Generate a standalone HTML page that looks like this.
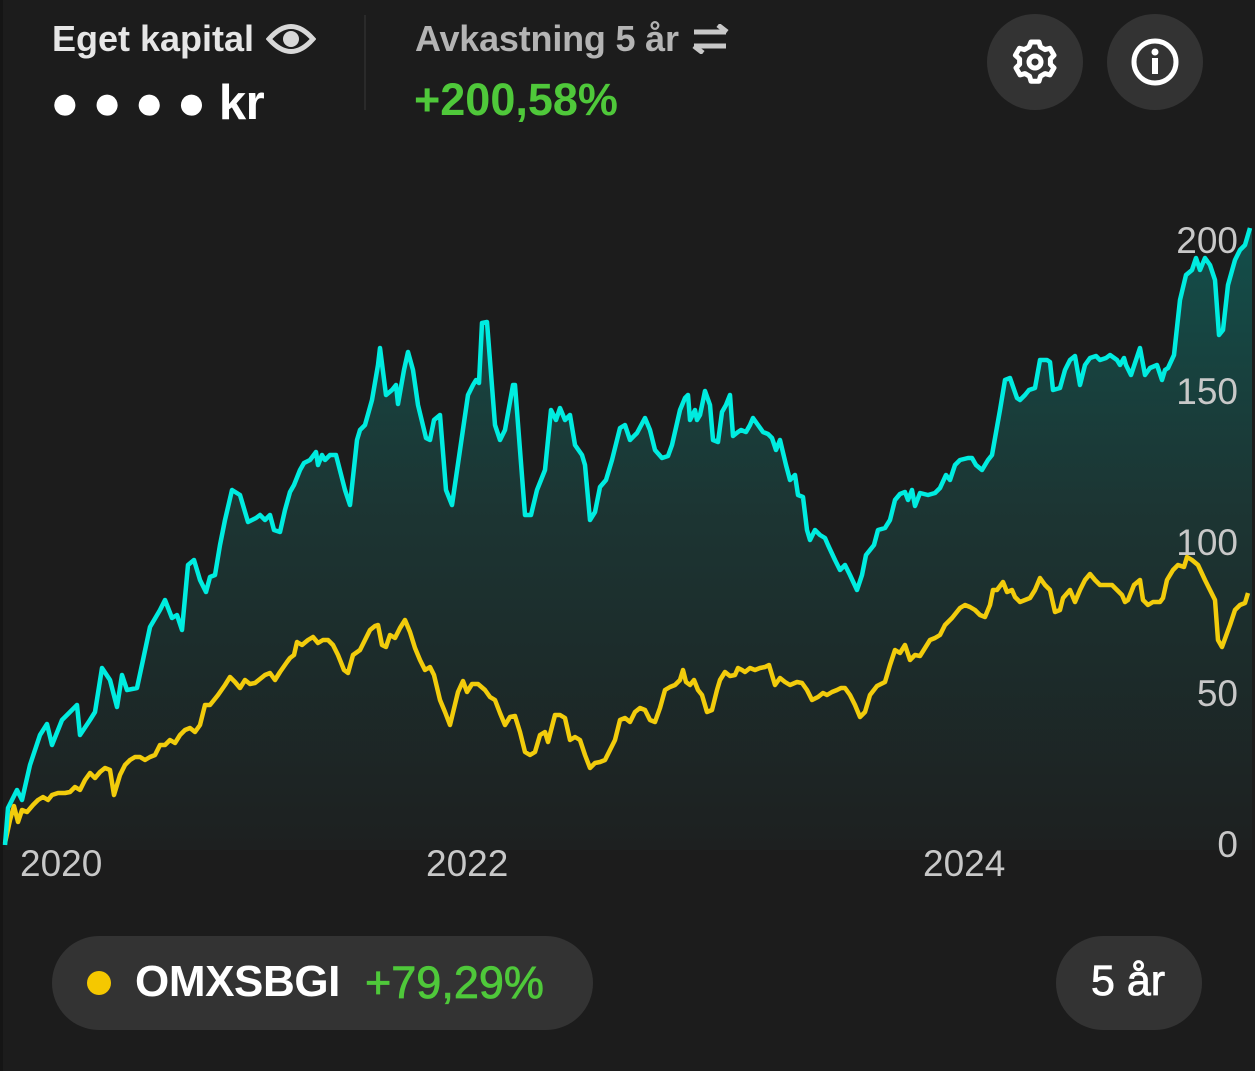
<!DOCTYPE html>
<html><head><meta charset="utf-8"><style>
html,body{margin:0;padding:0;background:#1c1c1c;}
body{width:1255px;height:1071px;position:relative;overflow:hidden;font-family:"Liberation Sans",sans-serif;}
.t{position:absolute;white-space:nowrap;}
</style></head><body>
<div style="position:absolute;left:0;top:0;width:3px;height:1071px;background:#151515"></div>
<div class="t" style="left:52px;top:18px;font-size:36px;font-weight:bold;color:#e6e6e6;letter-spacing:0px">Eget kapital</div>
<svg style="position:absolute;left:266px;top:20px" width="50" height="38" viewBox="0 0 50 38"><path d="M3 19 Q25 -6 47 19 Q25 44 3 19Z" fill="none" stroke="#d8d8d8" stroke-width="5"/><circle cx="25" cy="19" r="8" fill="#d8d8d8"/></svg>
<div class="t" style="left:50px;top:75px;font-size:49px;font-weight:bold;color:#fff;letter-spacing:-0.5px">● ● ● ● kr</div>
<div style="position:absolute;left:364px;top:15px;width:2px;height:95px;background:#2a2a2a"></div>
<div class="t" style="left:415px;top:18px;font-size:36px;font-weight:bold;color:#b4b4b4;letter-spacing:-0.2px">Avkastning 5 år</div>
<svg style="position:absolute;left:692px;top:24px" width="38" height="30" viewBox="0 0 38 30"><path d="M2 8H34M26 1L35 8M2 22H34M11 29L2 22" fill="none" stroke="#c8c8c8" stroke-width="5"/></svg>
<div class="t" style="left:414px;top:74px;font-size:45px;font-weight:bold;color:#4fc83a">+200,58%</div>
<div style="position:absolute;left:987px;top:14px;width:96px;height:96px;border-radius:50%;background:#333"></div>
<div style="position:absolute;left:1107px;top:14px;width:96px;height:96px;border-radius:50%;background:#333"></div>
<svg style="position:absolute;left:1010px;top:37px" width="50" height="50" viewBox="0 0 50 50"><g fill="none" stroke="#fff" stroke-width="5"><circle cx="25" cy="25" r="6"/><path d="M21 5h8l1.5 5 4.5 2.6 5-1.3 4 7-3.6 3.7v5.2l3.6 3.7-4 7-5-1.3-4.5 2.6-1.5 5h-8l-1.5-5-4.5-2.6-5 1.3-4-7 3.6-3.7v-5.2L5.4 18.3l4-7 5 1.3 4.5-2.6z" stroke-linejoin="round"/></g></svg>
<svg style="position:absolute;left:1130px;top:37px" width="50" height="50" viewBox="0 0 50 50"><circle cx="25" cy="25" r="21" fill="none" stroke="#fff" stroke-width="5"/><circle cx="25" cy="15" r="3.5" fill="#fff"/><rect x="22" y="21" width="6" height="16" fill="#fff"/></svg>

<svg style="position:absolute;left:0;top:0" width="1255" height="1071">
<defs><linearGradient id="g" x1="0" y1="228" x2="0" y2="850" gradientUnits="userSpaceOnUse"><stop offset="0" stop-color="#134e4a"/><stop offset="0.45" stop-color="#1c3533"/><stop offset="1" stop-color="#1d2020"/></linearGradient></defs>
<polygon fill="url(#g)" points="5,850 5,845 8,808 17,790 22,800 30,765 40,735 47,724 52,745 62,720 72,710 77,705 80,735 90,720 95,712 102,668 110,680 117,707 122,675 127,690 137,688 143,660 150,627 160,610 165,600 172,618 177,615 182,630 188,565 194,560 200,580 206,592 210,577 215,575 220,545 225,520 232,490 240,495 248,522 256,518 260,515 265,520 270,515 274,530 280,532 285,510 290,492 294,485 300,470 304,463 310,460 316,452 318,465 322,455 325,460 330,455 336,455 345,490 350,505 357,440 360,430 365,425 372,400 378,365 380,348 386,395 392,390 396,385 398,404 404,370 408,352 413,370 418,405 426,438 430,440 434,420 440,415 446,490 452,505 460,450 468,395 473,385 476,380 479,383 482,323 487,322 495,425 500,440 505,430 513,385 515,385 525,515 531,515 537,490 545,470 551,410 556,420 560,408 565,420 570,415 575,445 582,455 585,465 590,520 595,512 600,487 606,480 612,460 620,428 625,425 630,440 637,433 645,418 650,430 655,450 662,458 668,456 672,445 680,410 685,398 688,395 690,420 695,410 697,420 700,415 705,391 710,405 713,440 718,442 722,412 726,405 730,395 733,436 738,432 741,430 746,432 750,425 753,418 758,425 763,432 768,434 772,438 776,450 780,440 786,465 790,480 795,475 798,495 803,497 807,530 810,540 815,530 820,535 825,538 828,545 835,560 840,570 845,565 850,575 857,590 862,575 866,555 870,550 874,545 878,530 885,528 890,520 895,500 900,494 905,492 908,500 912,490 915,506 920,493 928,495 935,493 940,488 946,475 950,480 955,465 960,460 968,458 972,458 976,465 982,470 988,460 992,455 1000,410 1005,380 1010,378 1017,398 1020,400 1025,395 1029,390 1035,388 1040,360 1047,360 1050,362 1053,390 1060,388 1065,370 1070,360 1075,356 1080,385 1085,365 1090,358 1096,356 1100,360 1106,358 1110,355 1117,360 1120,365 1124,358 1126,365 1131,375 1140,348 1145,375 1150,368 1157,365 1162,380 1165,370 1168,368 1174,355 1180,300 1186,275 1192,270 1196,258 1200,270 1205,258 1210,265 1215,280 1219,335 1223,330 1228,285 1235,260 1240,250 1245,245 1250,228 1252,228 1252,850"/>
<g font-size="37" fill="#c8c8c8" text-anchor="end" font-family="Liberation Sans, sans-serif">
<text x="1238" y="253">200</text><text x="1238" y="404">150</text><text x="1238" y="555">100</text><text x="1238" y="706">50</text><text x="1238" y="857">0</text>
</g>
<g font-size="37" fill="#c8c8c8" font-family="Liberation Sans, sans-serif">
<text x="20" y="876">2020</text><text x="426" y="876">2022</text><text x="923" y="876">2024</text>
</g>
<polyline fill="none" stroke="#f2cc0c" stroke-width="4.5" stroke-linejoin="round" points="5,843 10,820 14,806 18,822 22,810 27,812 33,805 38,800 43,797 48,800 52,795 58,793 65,793 70,792 75,787 80,790 85,780 90,773 95,778 100,772 105,768 110,770 114,795 120,775 125,765 130,760 135,757 140,757 145,760 150,757 155,755 160,745 165,745 170,740 175,743 180,735 185,730 190,728 195,732 200,725 205,705 210,705 218,695 225,685 230,677 235,682 240,688 245,680 250,684 255,683 260,679 265,675 270,673 275,680 280,672 287,662 290,658 294,655 297,642 302,645 308,640 313,637 318,643 323,640 328,640 333,645 338,655 344,670 348,673 353,655 360,650 365,640 370,630 375,626 378,625 382,645 386,647 390,635 395,638 400,628 405,620 410,632 415,648 420,660 425,670 430,667 434,675 440,700 445,712 450,725 458,692 463,681 467,692 472,684 478,684 485,690 490,697 495,700 500,713 505,725 510,717 515,716 520,732 525,752 530,755 535,752 540,735 545,732 548,742 555,715 560,715 565,718 570,740 575,737 580,740 585,755 590,768 595,763 600,762 605,760 610,750 615,740 620,720 625,718 630,722 635,712 640,708 645,710 650,720 655,722 660,708 665,690 670,687 675,685 680,680 683,670 686,682 690,685 694,680 698,690 702,695 707,712 712,710 717,690 720,680 725,672 730,676 735,675 738,668 742,670 745,672 750,668 755,670 760,668 765,667 769,665 775,685 780,678 785,682 790,685 797,682 802,683 807,690 812,700 818,697 823,693 827,695 832,692 837,690 841,688 845,688 850,695 855,705 860,717 865,712 870,695 877,686 885,682 890,665 895,650 900,653 905,645 910,660 915,655 920,656 925,648 930,640 935,638 940,635 945,625 952,618 960,608 965,605 970,607 975,610 980,615 985,617 990,605 993,590 997,590 1003,582 1007,592 1012,590 1015,597 1020,602 1025,600 1030,598 1035,590 1040,578 1045,585 1050,590 1055,612 1060,610 1063,598 1070,590 1075,602 1080,590 1085,580 1090,574 1095,580 1100,585 1107,585 1112,585 1117,590 1122,595 1125,602 1128,600 1134,585 1140,580 1143,600 1148,605 1153,602 1160,602 1163,598 1167,580 1173,570 1178,565 1184,567 1187,557 1192,560 1198,565 1205,580 1210,590 1215,600 1218,640 1222,647 1230,625 1235,610 1240,605 1245,603 1248,593"/>
<polyline fill="none" stroke="#00ece0" stroke-width="4.5" stroke-linejoin="round" points="5,845 8,808 17,790 22,800 30,765 40,735 47,724 52,745 62,720 72,710 77,705 80,735 90,720 95,712 102,668 110,680 117,707 122,675 127,690 137,688 143,660 150,627 160,610 165,600 172,618 177,615 182,630 188,565 194,560 200,580 206,592 210,577 215,575 220,545 225,520 232,490 240,495 248,522 256,518 260,515 265,520 270,515 274,530 280,532 285,510 290,492 294,485 300,470 304,463 310,460 316,452 318,465 322,455 325,460 330,455 336,455 345,490 350,505 357,440 360,430 365,425 372,400 378,365 380,348 386,395 392,390 396,385 398,404 404,370 408,352 413,370 418,405 426,438 430,440 434,420 440,415 446,490 452,505 460,450 468,395 473,385 476,380 479,383 482,323 487,322 495,425 500,440 505,430 513,385 515,385 525,515 531,515 537,490 545,470 551,410 556,420 560,408 565,420 570,415 575,445 582,455 585,465 590,520 595,512 600,487 606,480 612,460 620,428 625,425 630,440 637,433 645,418 650,430 655,450 662,458 668,456 672,445 680,410 685,398 688,395 690,420 695,410 697,420 700,415 705,391 710,405 713,440 718,442 722,412 726,405 730,395 733,436 738,432 741,430 746,432 750,425 753,418 758,425 763,432 768,434 772,438 776,450 780,440 786,465 790,480 795,475 798,495 803,497 807,530 810,540 815,530 820,535 825,538 828,545 835,560 840,570 845,565 850,575 857,590 862,575 866,555 870,550 874,545 878,530 885,528 890,520 895,500 900,494 905,492 908,500 912,490 915,506 920,493 928,495 935,493 940,488 946,475 950,480 955,465 960,460 968,458 972,458 976,465 982,470 988,460 992,455 1000,410 1005,380 1010,378 1017,398 1020,400 1025,395 1029,390 1035,388 1040,360 1047,360 1050,362 1053,390 1060,388 1065,370 1070,360 1075,356 1080,385 1085,365 1090,358 1096,356 1100,360 1106,358 1110,355 1117,360 1120,365 1124,358 1126,365 1131,375 1140,348 1145,375 1150,368 1157,365 1162,380 1165,370 1168,368 1174,355 1180,300 1186,275 1192,270 1196,258 1200,270 1205,258 1210,265 1215,280 1219,335 1223,330 1228,285 1235,260 1240,250 1245,245 1250,228"/>
</svg>

<div style="position:absolute;left:52px;top:936px;width:541px;height:94px;border-radius:47px;background:#333"></div>
<div style="position:absolute;left:87px;top:971px;width:24px;height:24px;border-radius:50%;background:#f5c800"></div>
<div class="t" style="left:135px;top:957px;font-size:44px;font-weight:bold;color:#fff;letter-spacing:-0.4px">OMXSBGI</div>
<div class="t" style="left:365px;top:957px;font-size:45px;color:#4fc83a;-webkit-text-stroke:0.8px #4fc83a">+79,29%</div>
<div style="position:absolute;left:1056px;top:936px;width:146px;height:94px;border-radius:47px;background:#333"></div>
<div class="t" style="left:1091px;top:957px;font-size:43px;color:#fff;-webkit-text-stroke:0.8px #fff">5 år</div>
</body></html>
